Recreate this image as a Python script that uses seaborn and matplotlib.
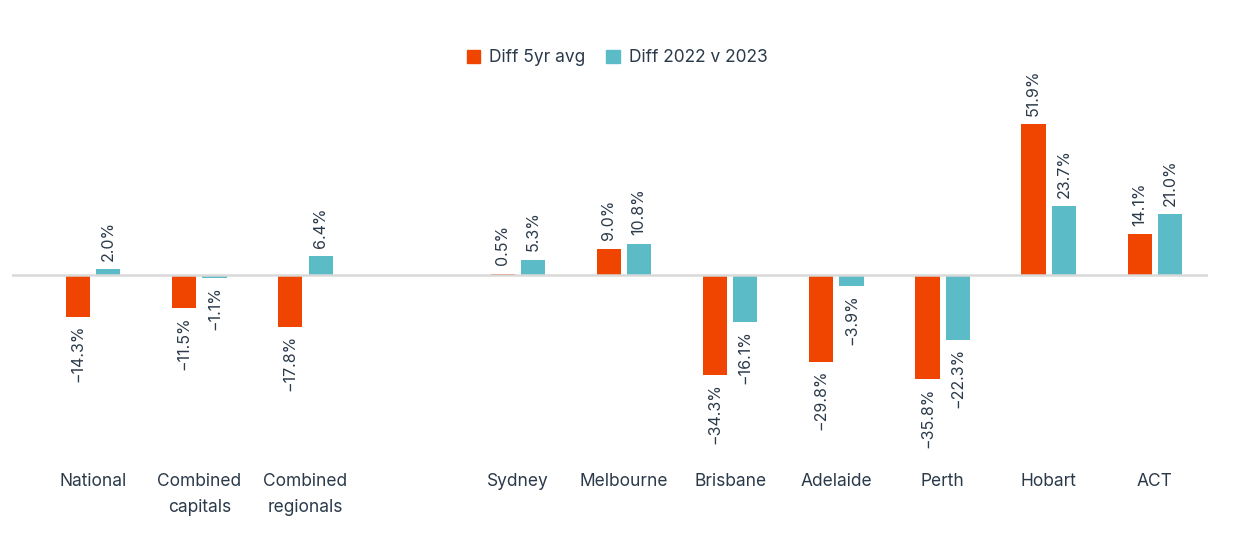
import matplotlib
matplotlib.use("Agg")
import matplotlib.pyplot as plt
from matplotlib.patches import Patch
import pandas as pd
import seaborn as sns

regions = ["National", "Combined\ncapitals", "Combined\nregionals", "",
           "Sydney", "Melbourne", "Brisbane", "Adelaide", "Perth", "Hobart", "ACT"]
diff_5yr = [-14.3, -11.5, -17.8, None, 0.5, 9.0, -34.3, -29.8, -35.8, 51.9, 14.1]
diff_yoy = [2.0, -1.1, 6.4, None, 5.3, 10.8, -16.1, -3.9, -22.3, 23.7, 21.0]
series = ["Diff 5yr avg", "Diff 2022 v 2023"]
colors = ["#F04500", "#5BBCC8"]
text_color = "#2B3A4A"

rows = []
for r, a, b in zip(regions, diff_5yr, diff_yoy):
    if a is None:
        continue
    rows.append({"region": r, "series": series[0], "value": a})
    rows.append({"region": r, "series": series[1], "value": b})
df = pd.DataFrame(rows)

sns.set_style("white")
plt.rcParams["font.family"] = ["Inter", "DejaVu Sans"]

fig = plt.figure(figsize=(12.34, 5.44), dpi=100)
ax = fig.add_axes([12 / 1234, 1 - 462 / 544, 1196 / 1234, 372 / 544])

sns.barplot(data=df, x="region", y="value", hue="series", order=regions,
            hue_order=series, palette=colors, saturation=1, width=0.57,
            gap=0.2, linewidth=0, legend=False, ax=ax)

fmt = lambda v: f"{v:.1f}%".replace("-", "\u2212")
for cont in ax.containers:
    ax.bar_label(cont, fmt=fmt, rotation=90, padding=6, fontsize=11.5,
                 color=text_color)

# zero line sits on top of the bars, as in the original
ax.axhline(0, color="#D9D9D9", lw=1.8, zorder=5)
ax.set_xlim(-0.764, 10.5)
ax.set_ylim(-64.3, 63.6)
ax.set_xlabel("")
ax.set_ylabel("")
ax.set_yticks([])
ax.tick_params(axis="x", length=0, pad=8, labelsize=12.5, labelcolor=text_color)
for lbl in ax.get_xticklabels():
    lbl.set_linespacing(1.7)
sns.despine(ax=ax, left=True, bottom=True)

handles = [Patch(color=c, label=s) for c, s in zip(colors, series)]
fig.legend(handles=handles, loc="center", bbox_to_anchor=(0.5, 1 - 58 / 544),
           ncol=2, frameon=False, fontsize=12.5, handlelength=0.8,
           handleheight=0.8, handletextpad=0.5, columnspacing=1.2,
           labelcolor=text_color)

fig.savefig("out.png", dpi=100)
